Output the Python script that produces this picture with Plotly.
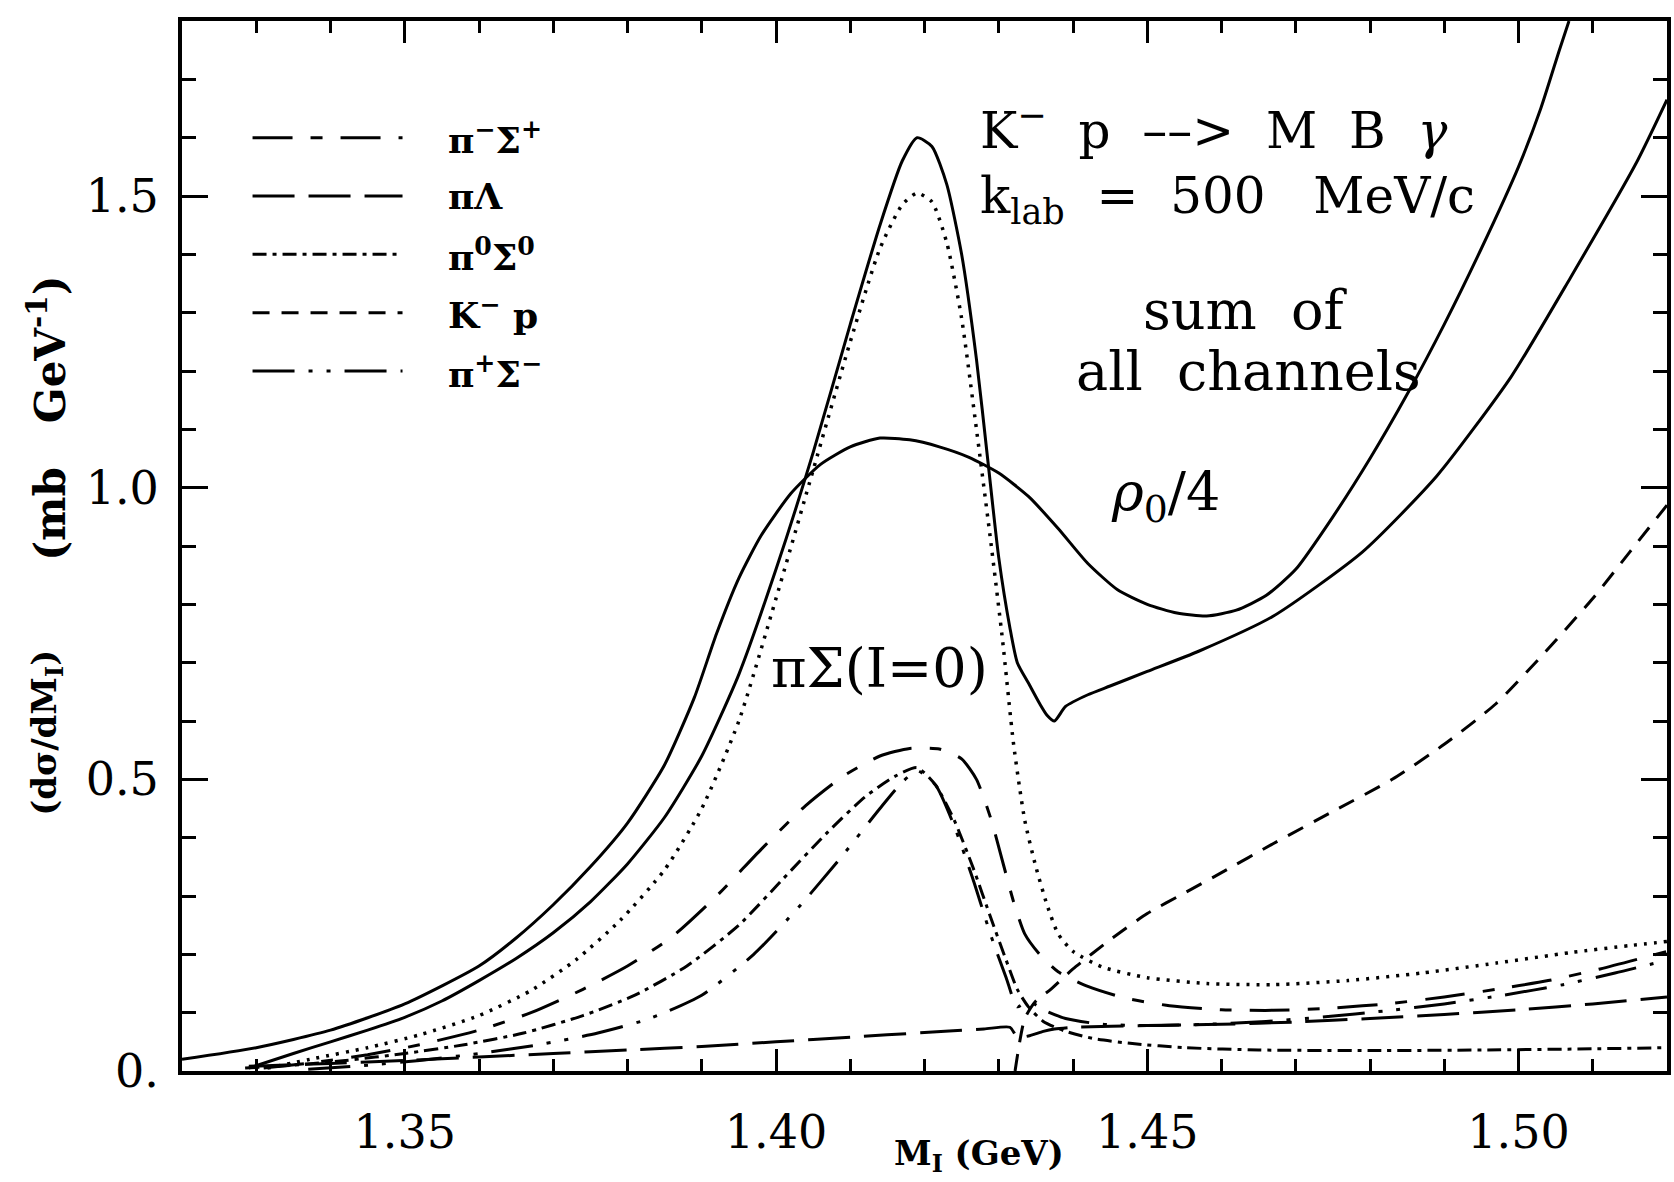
import plotly.graph_objects as go

# ---------------- data ----------------
sum_free_x = [1.329, 1.335, 1.340, 1.345, 1.350, 1.355, 1.360, 1.365, 1.370, 1.375, 1.380, 1.385,
              1.390, 1.395, 1.400, 1.405, 1.410, 1.414, 1.417, 1.419, 1.421, 1.423, 1.425, 1.427,
              1.4285, 1.430, 1.4315, 1.4325, 1.4340, 1.4355, 1.4365, 1.4375, 1.4390, 1.442, 1.445,
              1.450, 1.457, 1.467, 1.479, 1.489, 1.499, 1.507, 1.516, 1.520]
sum_free_y = [0.005, 0.03, 0.05, 0.070, 0.092, 0.120, 0.155, 0.193, 0.237, 0.290, 0.355, 0.435,
              0.540, 0.680, 0.860, 1.06, 1.28, 1.45, 1.56, 1.60, 1.585, 1.52, 1.40, 1.22,
              1.05, 0.88, 0.76, 0.70, 0.665, 0.63, 0.61, 0.60, 0.625, 0.645, 0.66,
              0.685, 0.72, 0.78, 0.89, 1.02, 1.19, 1.36, 1.56, 1.665]

sum_rho_x = [1.320, 1.330, 1.340, 1.350, 1.360, 1.365, 1.370, 1.375, 1.380, 1.385, 1.389, 1.392,
             1.395, 1.398, 1.402, 1.406, 1.410, 1.414, 1.418, 1.422, 1.426, 1.430, 1.434, 1.438,
             1.442, 1.446, 1.450, 1.454, 1.458, 1.462, 1.466, 1.470, 1.475, 1.480, 1.485, 1.490,
             1.495, 1.500, 1.503, 1.5055, 1.5068]
sum_rho_y = [0.020, 0.040, 0.070, 0.115, 0.180, 0.228, 0.285, 0.350, 0.425, 0.525, 0.640, 0.750,
             0.845, 0.918, 0.990, 1.040, 1.070, 1.085, 1.082, 1.070, 1.052, 1.025, 0.985, 0.930,
             0.870, 0.825, 0.800, 0.785, 0.780, 0.790, 0.815, 0.860, 0.950, 1.050, 1.160, 1.280,
             1.410, 1.550, 1.650, 1.750, 1.800]

pisigma_i0_x = [1.3315, 1.338, 1.345, 1.352, 1.360, 1.367, 1.373, 1.379, 1.385, 1.390, 1.395, 1.400,
                1.405, 1.410, 1.414, 1.417, 1.419, 1.421, 1.423, 1.425, 1.427, 1.429, 1.4305, 1.432,
                1.4335, 1.435, 1.4365, 1.438, 1.440, 1.444, 1.450, 1.458, 1.467, 1.477, 1.487,
                1.497, 1.507, 1.515, 1.520]
pisigma_i0_y = [0.005, 0.022, 0.040, 0.062, 0.095, 0.138, 0.190, 0.258, 0.345, 0.45, 0.60, 0.81,
                1.03, 1.25, 1.41, 1.485, 1.505, 1.49, 1.42, 1.29, 1.10, 0.90, 0.74, 0.56,
                0.43, 0.35, 0.285, 0.235, 0.205, 0.178, 0.160, 0.150, 0.148, 0.155, 0.168,
                0.185, 0.203, 0.215, 0.222]

pim_sigp_x = [1.331, 1.338, 1.345, 1.352, 1.360, 1.367, 1.374, 1.380, 1.386, 1.392, 1.398, 1.404,
              1.409, 1.414, 1.418, 1.422, 1.425, 1.427, 1.429, 1.4305, 1.432, 1.4335, 1.4355,
              1.438, 1.442, 1.447, 1.453, 1.460, 1.467, 1.475, 1.483, 1.490, 1.497, 1.504,
              1.511, 1.520]
pim_sigp_y = [0.005, 0.015, 0.028, 0.045, 0.07, 0.10, 0.14, 0.18, 0.23, 0.30, 0.38, 0.455,
              0.505, 0.54, 0.553, 0.552, 0.535, 0.50, 0.43, 0.36, 0.29, 0.235, 0.20,
              0.17, 0.145, 0.125, 0.112, 0.105, 0.104, 0.108, 0.116, 0.127, 0.14, 0.155,
              0.175, 0.205]

pilam_x = [1.329, 1.340, 1.350, 1.360, 1.370, 1.380, 1.390, 1.400, 1.410, 1.420, 1.428, 1.4315,
           1.4325, 1.434, 1.436, 1.4375, 1.440, 1.450, 1.460, 1.470, 1.480, 1.490, 1.500,
           1.510, 1.520]
pilam_y = [0.008, 0.013, 0.018, 0.024, 0.030, 0.036, 0.042, 0.050, 0.058, 0.066, 0.072, 0.075,
           0.058, 0.060, 0.068, 0.072, 0.075, 0.078, 0.080, 0.084, 0.090, 0.097, 0.105,
           0.115, 0.127]

pi0_sig0_x = [1.3285, 1.335, 1.342, 1.350, 1.358, 1.366, 1.374, 1.381, 1.388, 1.395, 1.401, 1.407,
              1.412, 1.416, 1.419, 1.4215, 1.424, 1.4265, 1.429, 1.431, 1.4325, 1.434, 1.436,
              1.439, 1.443, 1.448, 1.455, 1.465, 1.480, 1.495, 1.510, 1.520]
pi0_sig0_y = [0.005, 0.010, 0.018, 0.030, 0.045, 0.065, 0.095, 0.13, 0.18, 0.25, 0.33, 0.41,
              0.47, 0.505, 0.52, 0.49, 0.43, 0.35, 0.26, 0.19, 0.14, 0.11, 0.085,
              0.068, 0.055, 0.047, 0.040, 0.036, 0.035, 0.036, 0.038, 0.040]

kmp_x = [1.4322, 1.4335, 1.435, 1.437, 1.440, 1.445, 1.450, 1.455, 1.460, 1.467, 1.475, 1.483,
         1.490, 1.497, 1.503, 1.510, 1.515, 1.520]
kmp_y = [0.0, 0.09, 0.12, 0.14, 0.175, 0.225, 0.27, 0.305, 0.34, 0.39, 0.445, 0.50,
         0.56, 0.63, 0.71, 0.81, 0.89, 0.97]

pip_sigm_x = [1.337, 1.345, 1.352, 1.360, 1.368, 1.376, 1.383, 1.390, 1.397, 1.403, 1.409, 1.414,
              1.417, 1.419, 1.4215, 1.424, 1.4265, 1.429, 1.431, 1.4325, 1.434, 1.436, 1.439,
              1.444, 1.450, 1.458, 1.466, 1.474, 1.482, 1.490, 1.498, 1.506, 1.513, 1.520]
pip_sigm_y = [0.003, 0.010, 0.018, 0.030, 0.045, 0.065, 0.09, 0.13, 0.20, 0.28, 0.37, 0.45,
              0.495, 0.515, 0.49, 0.42, 0.33, 0.23, 0.16, 0.11, 0.12, 0.105, 0.09,
              0.08, 0.078, 0.08, 0.085, 0.093, 0.103, 0.115, 0.13, 0.148, 0.168, 0.19]

x_tickvals = [1.35, 1.40, 1.45, 1.50]
x_ticktext = ["1.35", "1.40", "1.45", "1.50"]
y_tickvals = [0.0, 0.5, 1.0, 1.5]
y_ticktext = ["0.", "0.5", "1.0", "1.5"]

legend_labels = ["π<sup>−</sup>Σ<sup>+</sup>", "πΛ", "π<sup>0</sup>Σ<sup>0</sup>",
                 "K<sup>−</sup> p", "π<sup>+</sup>Σ<sup>−</sup>"]
legend_y = [1.6, 1.5, 1.4, 1.3, 1.2]

# ---------------- styles ----------------
BLACK = "black"
W = 3
dash_pimsigp = "40px,18px,12px,18px"
dash_pilam = "42px,14px"
dash_pi0sig0 = "14px,6px,4px,6px"
dash_kmp = "17px,12px"
dash_pipsigm = "42px,14px,4px,14px,4px,14px"
dash_dot = "3px,7px"
FONT = "DejaVu Serif"
NB = "\u00a0"

fig = go.Figure()

def add_curve(x, y, dash, width=W):
    fig.add_trace(go.Scatter(x=x, y=y, mode="lines",
                             line=dict(color=BLACK, width=width, dash=dash, shape="spline", smoothing=0.6),
                             showlegend=False, hoverinfo="skip"))

add_curve(sum_free_x, sum_free_y, "solid")
add_curve(sum_rho_x, sum_rho_y, "solid")
add_curve(pisigma_i0_x, pisigma_i0_y, dash_dot, width=3.5)
add_curve(pim_sigp_x, pim_sigp_y, dash_pimsigp)
add_curve(pilam_x, pilam_y, dash_pilam)
add_curve(pi0_sig0_x, pi0_sig0_y, dash_pi0sig0)
add_curve(kmp_x, kmp_y, dash_kmp)
add_curve(pip_sigm_x, pip_sigm_y, dash_pipsigm)

# legend samples (drawn manually)
legend_dashes = [dash_pimsigp, dash_pilam, dash_pi0sig0, dash_kmp, dash_pipsigm]
for yy, dsh, lab in zip(legend_y, legend_dashes, legend_labels):
    fig.add_shape(type="line", xref="x", yref="y", x0=1.3295, x1=1.3497, y0=yy, y1=yy,
                  line=dict(color=BLACK, width=W, dash=dsh))
    fig.add_annotation(x=1.3556, y=yy, xref="x", yref="y", text="<b>" + lab + "</b>",
                       showarrow=False, xanchor="left", yanchor="middle",
                       font=dict(family=FONT, size=36, color=BLACK))

header = ("K<sup>−</sup>" + NB * 2 + "p" + NB * 2 + "––>" + NB * 2 + "M" + NB * 2 + "B" + NB * 2 + "<i>γ</i>"
          + "<br>" + "k<sub>lab</sub>" + NB * 2 + "=" + NB * 2 + "500" + NB * 3 + "MeV/c")
fig.add_annotation(x=1.4272, y=1.555, xref="x", yref="y", text=header, showarrow=False,
                   xanchor="left", yanchor="middle", align="left",
                   font=dict(family=FONT, size=50, color=BLACK))

texts = [
    (1.4632, 1.303, "sum" + NB * 2 + "of"),
    (1.4637, 1.200, "all" + NB * 2 + "channels"),
    (1.4525, 0.985, "<i>ρ</i><sub>0</sub>/4"),
    (1.4140, 0.690, "πΣ(I=0)"),
]
for xx, yy, t in texts:
    fig.add_annotation(x=xx, y=yy, xref="x", yref="y", text=t, showarrow=False,
                       xanchor="center", yanchor="middle",
                       font=dict(family=FONT, size=54, color=BLACK))

# axis titles
fig.add_annotation(x=0.537, y=-0.080, xref="paper", yref="paper",
                   text="<b>M<sub>I</sub> (GeV)</b>", showarrow=False,
                   xanchor="center", yanchor="middle",
                   font=dict(family=FONT, size=34, color=BLACK))
fig.add_annotation(x=-0.091, y=0.322, xref="paper", yref="paper",
                   text="<b>(dσ/dM<sub>I</sub>)</b>",
                   showarrow=False, textangle=-90, xanchor="center", yanchor="middle",
                   font=dict(family=FONT, size=34, color=BLACK))
fig.add_annotation(x=-0.091, y=0.622, xref="paper", yref="paper",
                   text="<b>(mb" + NB * 3 + "GeV<sup>-1</sup>)</b>",
                   showarrow=False, textangle=-90, xanchor="center", yanchor="middle",
                   font=dict(family=FONT, size=42, color=BLACK))

fig.update_layout(
    width=1674, height=1182,
    margin=dict(l=182, r=3, t=21, b=111),
    paper_bgcolor="white", plot_bgcolor="white",
    showlegend=False,
    font=dict(family=FONT, color=BLACK),
)
fig.update_xaxes(range=[1.32, 1.52], showgrid=False, zeroline=False,
                 showline=True, linecolor=BLACK, linewidth=4, mirror="allticks",
                 ticks="inside", ticklen=22, tickwidth=3, tickcolor=BLACK,
                 tickvals=x_tickvals, ticktext=x_ticktext,
                 tickfont=dict(family=FONT, size=46, color=BLACK),
                 ticklabelstandoff=18,
                 minor=dict(dtick=0.01, tick0=1.32, ticks="inside", ticklen=12, tickwidth=3,
                            tickcolor=BLACK, showgrid=False))
fig.update_yaxes(range=[0, 1.8], showgrid=False, zeroline=False,
                 showline=True, linecolor=BLACK, linewidth=4, mirror="allticks",
                 ticks="inside", ticklen=26, tickwidth=3, tickcolor=BLACK,
                 tickvals=y_tickvals, ticktext=y_ticktext,
                 tickfont=dict(family=FONT, size=46, color=BLACK),
                 ticklabelstandoff=10,
                 minor=dict(dtick=0.1, tick0=0, ticks="inside", ticklen=14, tickwidth=3,
                            tickcolor=BLACK, showgrid=False))

fig.write_html("out.html")
